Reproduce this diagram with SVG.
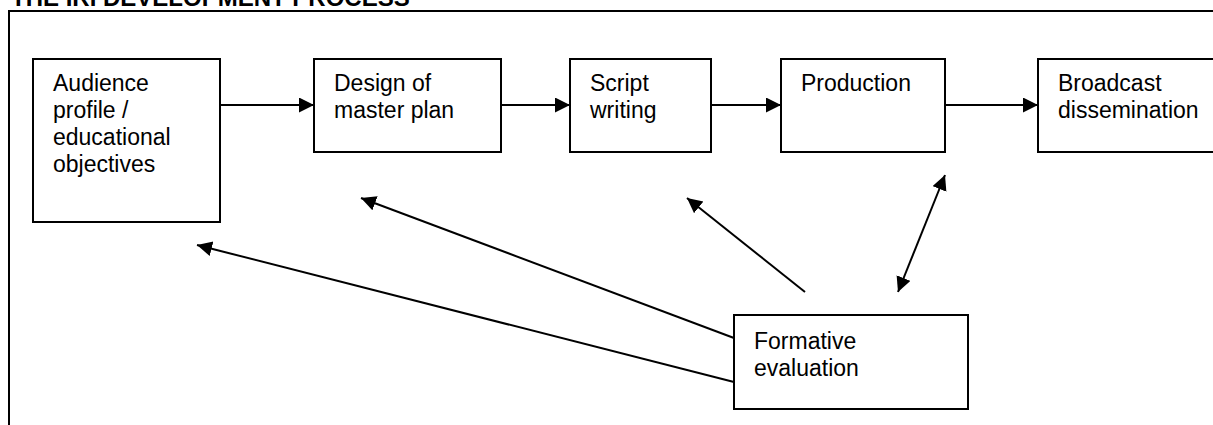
<svg xmlns="http://www.w3.org/2000/svg" width="1213" height="425" viewBox="0 0 1213 425">
<style>
.box{fill:#fff;stroke:#000;stroke-width:2}
.t{font-family:"Liberation Sans",Arial,sans-serif;font-size:23px;fill:#000}
.title{font-family:"Liberation Sans",Arial,sans-serif;font-size:24px;font-weight:bold;fill:#000}
.c{stroke:#000;stroke-width:2;fill:none}
</style>
<defs>
<marker id="ah" markerUnits="userSpaceOnUse" markerWidth="16" markerHeight="16" refX="15" refY="7.5" orient="auto-start-reverse">
<path d="M0,0 L15,7.5 L0,15 z" fill="#000"/>
</marker>
</defs>
<rect width="1213" height="425" fill="#fff"/>
<text class="title" x="11" y="6">THE IRI DEVELOPMENT PROCESS</text>
<path class="c" d="M9,425 V11 H1214"/>
<g id="connectors">
<line class="c" x1="220" y1="105" x2="314" y2="105" marker-end="url(#ah)"/>
<line class="c" x1="501" y1="105" x2="570" y2="105" marker-end="url(#ah)"/>
<line class="c" x1="711" y1="105" x2="781" y2="105" marker-end="url(#ah)"/>
<line class="c" x1="945" y1="105" x2="1038" y2="105" marker-end="url(#ah)"/>
<line class="c" x1="734" y1="382" x2="197" y2="245" marker-end="url(#ah)"/>
<line class="c" x1="734" y1="338" x2="361" y2="198" marker-end="url(#ah)"/>
<line class="c" x1="805" y1="292" x2="687" y2="198" marker-end="url(#ah)"/>
<line class="c" x1="898" y1="292" x2="945" y2="175" marker-start="url(#ah)" marker-end="url(#ah)"/>
</g>
<g id="audience">
<rect class="box" x="33" y="59" width="187" height="163"/>
<text class="t" x="53" y="91">Audience</text>
<text class="t" x="53" y="118">profile /</text>
<text class="t" x="53" y="145">educational</text>
<text class="t" x="53" y="172">objectives</text>
</g>
<g id="design">
<rect class="box" x="314" y="59" width="187" height="93"/>
<text class="t" x="334" y="91">Design of</text>
<text class="t" x="334" y="118">master plan</text>
</g>
<g id="script">
<rect class="box" x="570" y="59" width="141" height="93"/>
<text class="t" x="590" y="91">Script</text>
<text class="t" x="590" y="118">writing</text>
</g>
<g id="production">
<rect class="box" x="781" y="59" width="164" height="93"/>
<text class="t" x="801" y="91">Production</text>
</g>
<g id="broadcast">
<rect class="box" x="1038" y="59" width="190" height="93"/>
<text class="t" x="1058" y="91">Broadcast</text>
<text class="t" x="1058" y="118">dissemination</text>
</g>
<g id="formative">
<rect class="box" x="734" y="315" width="234" height="94"/>
<text class="t" x="754" y="349">Formative</text>
<text class="t" x="754" y="376">evaluation</text>
</g>
</svg>
